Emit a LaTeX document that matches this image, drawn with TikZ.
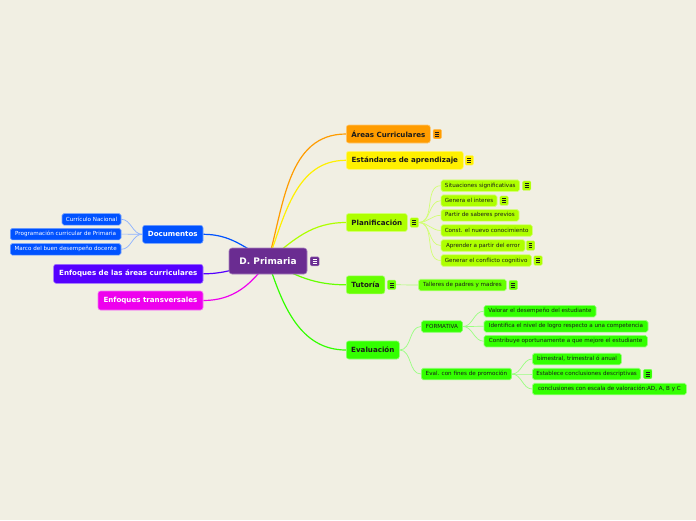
\documentclass[tikz,border=0pt]{standalone}
\usepackage{fontspec}
\setmainfont{DejaVu Sans}
\usetikzlibrary{backgrounds}
\definecolor{bg}{HTML}{F1EFE3}
\definecolor{cpurple}{HTML}{6A2C91}
\definecolor{corange}{HTML}{FF9C00}
\definecolor{cyellow}{HTML}{FFF000}
\definecolor{clime}{HTML}{AEFF00}
\definecolor{ctut}{HTML}{66FF00}
\definecolor{cev}{HTML}{33FF00}
\definecolor{cblue}{HTML}{0052FF}
\definecolor{cviolet}{HTML}{5500FF}
\definecolor{cmag}{HTML}{EE00EE}
\definecolor{ctext}{HTML}{1A1A1A}
\begin{document}
\begin{tikzpicture}[x=1pt,y=1pt,
  basebox/.style={rounded corners=2.5pt, inner xsep=4pt, inner ysep=0pt, anchor=west, line width=0.6pt},
  col/.style={fill=#1, draw=#1!55!white},
  mainbox/.style={basebox, minimum height=18pt, font=\bfseries\fontsize{7.1}{8}\selectfont, text=ctext},
  leftbox/.style={basebox, minimum height=18pt, font=\bfseries\fontsize{7.1}{8}\selectfont, text=white},
  subbox/.style={basebox, rounded corners=1.8pt, minimum height=11.5pt, inner xsep=3pt, font=\fontsize{5.6}{6.5}\selectfont, text=ctext},
  cbox/.style={rounded corners=3pt, minimum width=78pt, minimum height=26pt, inner sep=0pt, font=\bfseries\fontsize{9}{10}\selectfont, text=white, fill=cpurple, draw=cpurple!60!white, line width=0.6pt},
  iconbox/.style 2 args={fill=#1, draw=#1!60!white, line width=0.4pt, rounded corners=1.2pt, minimum width=8.5pt, minimum height=9.5pt, inner sep=0pt,
    path picture={\foreach \yy in {-2,0,2}{\draw[#2,line width=0.45pt] ([xshift=2.3pt,yshift=\yy pt]path picture bounding box.west) -- ([xshift=-2.3pt,yshift=\yy pt]path picture bounding box.east);}}},
  link/.style={line width=1.2pt},
  sublink/.style={line width=0.7pt}
]
\useasboundingbox (0,0) rectangle (696,-520);

% central
\node[cbox] (c) at (268,-261) {D. Primaria};
\node[iconbox={cpurple}{white}, minimum width=9pt, minimum height=9pt] (ci) at (314.7,-261.3) {};

% right main
\node[mainbox, col=corange, minimum width=84pt] (ar) at (346,-134) {Áreas Curriculares};
\node[iconbox={corange}{ctext}] (ari) at (437.3,-134) {};
\node[mainbox, col=cyellow, minimum width=117pt] (es) at (346,-160.3) {Estándares de aprendizaje};
\node[iconbox={cyellow}{ctext}] (esi) at (469.3,-160.3) {};
\node[mainbox, col=clime, minimum width=61pt] (pl) at (346,-222.5) {Planificación};
\node[iconbox={clime}{ctext}] (pli) at (414.3,-222.5) {};
\node[mainbox, col=ctut, minimum width=38.5pt] (tu) at (346,-284.8) {Tutoría};
\node[iconbox={ctut}{ctext}] (tui) at (391.7,-284.8) {};
\node[mainbox, col=cev, minimum width=53pt] (ev) at (346,-350) {Evaluación};

% planificacion children
\node[subbox, col=clime, minimum width=78.6pt] (p1) at (440.7,-185.7) {Situaciones significativas};
\node[iconbox={clime}{ctext}] (p1i) at (526.7,-185.7) {};
\node[subbox, col=clime, minimum width=56pt] (p2) at (440.7,-200.7) {Genera el interes};
\node[iconbox={clime}{ctext}] (p2i) at (504,-200.7) {};
\node[subbox, col=clime, minimum width=78pt] (p3) at (440.7,-215.3) {Partir de saberes previos};
\node[subbox, col=clime, minimum width=91.3pt] (p4) at (440.7,-230.5) {Const. el nuevo conocimiento};
\node[subbox, col=clime, minimum width=84pt] (p5) at (440.7,-245.5) {Aprender a partir del error};
\node[iconbox={clime}{ctext}] (p5i) at (530.5,-245.5) {};
\node[subbox, col=clime, minimum width=90.3pt] (p6) at (440.7,-260.5) {Generar el conflicto cognitivo};
\node[iconbox={clime}{ctext}] (p6i) at (538,-260.5) {};

% tutoria child
\node[subbox, col=ctut, minimum width=87.7pt] (tal) at (418.3,-285) {Talleres de padres y madres};
\node[iconbox={ctut}{ctext}] (tali) at (513.3,-285) {};

% evaluacion children
\node[subbox, col=cev, minimum width=41.3pt] (fo) at (421,-326.5) {FORMATIVA};
\node[subbox, col=cev, minimum width=112pt] (f1) at (483.7,-311.2) {Valorar el desempeño del estudiante};
\node[subbox, col=cev, minimum width=164pt] (f2) at (483.7,-326.3) {Identifica el nivel de logro respecto a una competencia};
\node[subbox, col=cev, minimum width=163.3pt] (f3) at (483.7,-341.2) {Contribuye oportunamente a que mejore el estudiante};
\node[subbox, col=cev, minimum width=90.3pt] (ep) at (421,-374) {Eval. con fines de promoción};
\node[subbox, col=cev, minimum width=88.7pt] (e1) at (532.3,-359) {bimestral, trimestral ó anual};
\node[subbox, col=cev, minimum width=108pt] (e2) at (532.3,-374) {Establece conclusiones descriptivas};
\node[iconbox={cev}{ctext}] (e2i) at (647.7,-374) {};
\node[subbox, col=cev, minimum width=153.7pt] (e3) at (532.3,-389) {conclusiones con escala de valoración:AD, A, B y C};

% left side
\node[leftbox, col=cblue, minimum width=60.4pt] (doc) at (142.3,-234.3) {Documentos};
\node[subbox, col=cblue, text=white, minimum width=59pt] (d1) at (61.7,-219.3) {Currículo Nacional};
\node[subbox, col=cblue, text=white, minimum width=110.7pt] (d2) at (10,-234.1) {Programación curricular de Primaria};
\node[subbox, col=cblue, text=white, minimum width=110.7pt] (d3) at (10,-249.3) {Marco del buen desempeño docente};
\node[leftbox, col=cviolet, minimum width=149.4pt, minimum height=19pt] (ea) at (53.3,-273.8) {Enfoques de las áreas curriculares};
\node[leftbox, col=cmag, minimum width=105pt, minimum height=19pt] (et) at (97.7,-300.5) {Enfoques transversales};

\begin{pgfonlayer}{background}
\fill[bg] (0,0) rectangle (696,-520);
% main connectors
\draw[link,corange] (c.center) to[out=74,in=180] (ar.west);
\draw[link,cyellow] (c.center) to[out=70,in=180] (es.west);
\draw[link,clime] (c.center) to[out=40,in=180] (pl.west);
\draw[link,ctut] (c.center) to[out=-28,in=180] (tu.west);
\draw[link,cev] (c.center) to[out=-72,in=180] (ev.west);
\draw[link,cblue] (c.center) to[out=150,in=0] (doc.east);
\draw[link,cviolet] (c.center) to[out=190,in=0] (ea.east);
\draw[link,cmag] (c.center) to[out=235,in=0] (et.east);
% sub connectors
\foreach \k in {p1,p2,p3,p4,p5,p6}{\draw[sublink,clime!55!white] (pli.east) to[out=0,in=180] (\k.west);}
\draw[sublink,ctut!55!white] (tui.east) -- (tal.west);
\draw[sublink,cev!50!white] (ev.east) to[out=0,in=180] (fo.west);
\draw[sublink,cev!50!white] (ev.east) to[out=0,in=180] (ep.west);
\foreach \k in {f1,f2,f3}{\draw[sublink,cev!50!white] (fo.east) to[out=0,in=180] (\k.west);}
\foreach \k in {e1,e2,e3}{\draw[sublink,cev!50!white] (ep.east) to[out=0,in=180] (\k.west);}
\foreach \k in {d1,d2,d3}{\draw[sublink,cblue!45!white] (doc.west) to[out=180,in=0] (\k.east);}
\end{pgfonlayer}
\end{tikzpicture}
\end{document}
